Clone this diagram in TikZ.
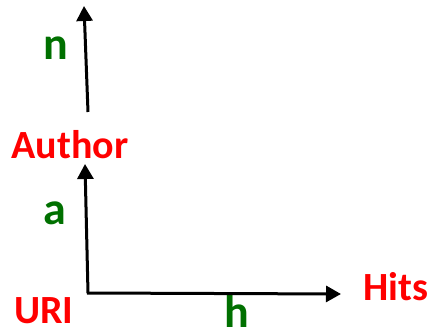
\documentclass[tikz,border=0pt]{standalone}
\usepackage{fontspec}
\setmainfont{Carlito}
\usetikzlibrary{arrows.meta}
\definecolor{lblred}{RGB}{255,0,0}
\definecolor{lblgreen}{RGB}{0,112,0}
\begin{document}
\begin{tikzpicture}[x=1pt,y=-1pt,
  concept/.style={text=lblred,font=\fontsize{40}{40}\selectfont\bfseries,inner sep=0pt},
  rel/.style={text=lblgreen,font=\fontsize{46}{46}\selectfont\bfseries,inner sep=0pt},
  axis/.style={line width=3pt,-{Triangle[length=15pt,width=16pt]}}]
\useasboundingbox (0,0) rectangle (432,334);
\node[concept] (author) at (70,145) {Author};
\node[concept] (uri) at (44,311) {URI};
\node[concept] (hits) at (396,287) {Hits};
\node[rel] (n) at (56,48) {n};
\node[rel] (a) at (55,213) {a};
\node[rel] (h) at (237,311) {h};
\coordinate (o) at (88,293);
\coordinate (ostart) at (87,293);
\coordinate (atip) at (85,164);
\coordinate (nstart) at (88,112);
\coordinate (ntip) at (84,6);
\coordinate (htip) at (341,294);
\draw[axis] (o) -- (atip);
\draw[axis] (ostart) -- (htip);
\draw[axis] (nstart) -- (ntip);
\end{tikzpicture}
\end{document}
